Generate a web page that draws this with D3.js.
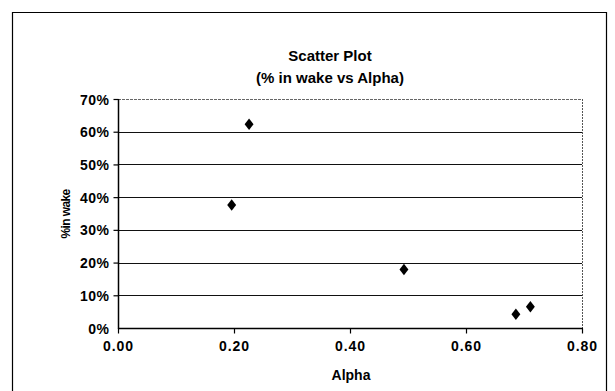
<!DOCTYPE html>
<html>
<head>
<meta charset="utf-8">
<script src="https://cdn.jsdelivr.net/npm/d3@7"></script>
<style>
  html, body { margin: 0; padding: 0; background: #fff; }
  svg { display: block; }
  text { font-family: Arial, "Liberation Sans", sans-serif; fill: #000; }
</style>
</head>
<body>
<svg id="chart" width="615" height="391"></svg>
<script>
// Alpha vs share of time spent in the wake
const alpha = [0.196, 0.226, 0.493, 0.686, 0.711];
const inWake = [0.376, 0.623, 0.179, 0.042, 0.065];
const xTicks = [0, 0.2, 0.4, 0.6, 0.8];
const yTicks = [0, 0.1, 0.2, 0.3, 0.4, 0.5, 0.6, 0.7];
const titleLines = ["Scatter Plot", "(% in wake vs Alpha)"];

const svg = d3.select("#chart");
const W = 615, H = 391;
const plot = { left: 118, right: 582, top: 99, bottom: 328 };

// chart frame
svg.append("path")
  .attr("d", `M12.5,${H + 2} V12.5 H606.5 V${H + 2}`)
  .attr("fill", "none").attr("stroke", "#000").attr("stroke-width", 1.2);

const x = d3.scaleLinear().domain([0, 0.8]).range([plot.left, plot.right]);
const y = d3.scaleLinear().domain([0, 0.7]).range([plot.bottom, plot.top]);

// horizontal gridlines
svg.append("g")
  .selectAll("line").data(yTicks.filter(d => d > 0)).join("line")
  .attr("x1", plot.left).attr("x2", plot.right)
  .attr("y1", d => Math.round(y(d)) + 0.5).attr("y2", d => Math.round(y(d)) + 0.5)
  .attr("stroke", d => d === 0.7 ? "#666" : "#111")
  .attr("stroke-width", d => d === 0.7 ? 1 : 1.2)
  .attr("stroke-dasharray", d => d === 0.7 ? "3,1" : null);

// right edge of the plot area
svg.append("line")
  .attr("x1", plot.right + 0.5).attr("x2", plot.right + 0.5)
  .attr("y1", plot.top).attr("y2", plot.bottom)
  .attr("stroke", "#555").attr("stroke-dasharray", "2,1");

// axes
const xAxis = d3.axisBottom(x).tickValues(xTicks).tickFormat(d3.format(".2f"))
  .tickSize(5).tickPadding(6);
const yAxis = d3.axisLeft(y).tickValues(yTicks).tickFormat(d3.format(".0%"))
  .tickSize(5).tickPadding(4);

const gx = svg.append("g").attr("transform", `translate(0,${plot.bottom + 0.5})`).call(xAxis);
const gy = svg.append("g").attr("transform", `translate(${plot.left + 0.5},0)`).call(yAxis);

[gx, gy].forEach(g => {
  g.select(".domain").attr("stroke", "#000").attr("stroke-width", 1.5);
  g.selectAll(".tick line").attr("stroke", "#000").attr("stroke-width", 1.2);
  g.selectAll(".tick text")
    .attr("font-family", "Arial, 'Liberation Sans', sans-serif")
    .attr("font-size", 14).attr("font-weight", "bold").attr("fill", "#000");
});
gx.selectAll(".tick text").attr("letter-spacing", 1).attr("dy", "0.85em");
gy.selectAll(".tick text").attr("letter-spacing", 0.5).attr("dy", "0.36em");
gy.select(".tick line").remove();
// the domain path carries outer ticks; redraw as plain lines
gx.select(".domain").attr("d", `M${plot.left},0H${plot.right + 1}`);
gy.select(".domain").attr("d", `M0,${plot.top}V${plot.bottom + 1}`);

// markers
svg.append("g").selectAll("path").data(alpha).join("path")
  .attr("d", d3.symbol(d3.symbolDiamond, 48))
  .attr("transform", (d, i) => `translate(${x(d)},${y(inWake[i])}) scale(1.2,0.9)`)
  .attr("fill", "#000");

// title
svg.append("text")
  .attr("x", 330).attr("y", 61)
  .attr("text-anchor", "middle").attr("font-size", 15).attr("font-weight", "bold")
  .selectAll("tspan").data(titleLines).join("tspan")
  .attr("x", 330).attr("dy", (d, i) => i === 0 ? 0 : 22)
  .text(d => d);

// axis titles
svg.append("text")
  .attr("x", 351).attr("y", 380)
  .attr("text-anchor", "middle").attr("font-size", 14).attr("font-weight", "bold")
  .text("Alpha");

svg.append("text")
  .attr("transform", "translate(70,214) rotate(-90)")
  .attr("text-anchor", "middle").attr("font-size", 12).attr("font-weight", "bold")
  .attr("letter-spacing", -0.6)
  .text("%in wake");
</script>
</body>
</html>
